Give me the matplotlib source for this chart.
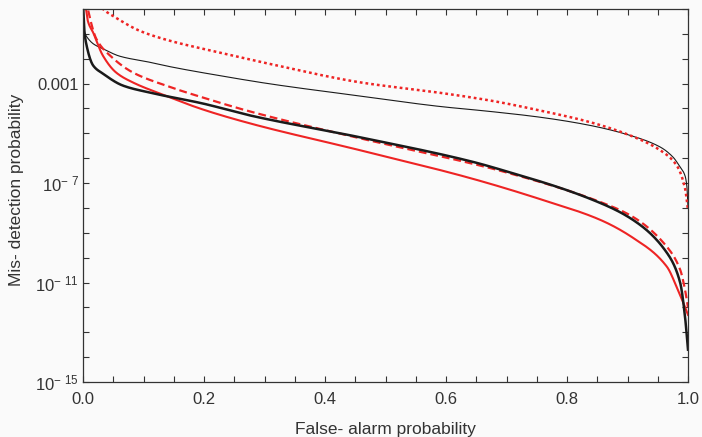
"""Mis-detection vs false-alarm probability curves (log scale)."""

import matplotlib

matplotlib.use("Agg")
import matplotlib.pyplot as plt
import numpy as np
from matplotlib.ticker import FixedLocator, FixedFormatter, NullFormatter

plt.rcParams["font.family"] = ["Liberation Sans", "DejaVu Sans"]
plt.rcParams["mathtext.fontset"] = "custom"
plt.rcParams["mathtext.rm"] = "Liberation Sans"

TEXT = "#333333"
RED = "#ee2424"
BLACK = "#1a1a1a"

# false-alarm probability and log10(mis-detection probability)
thin_black_x = [0.0, 0.003, 0.017, 0.033, 0.061, 0.11, 0.144, 0.226, 0.309, 0.458, 0.59,
                0.673, 0.755, 0.838, 0.904, 0.954, 0.975, 0.985, 0.995, 0.998, 1.0]
thin_black_log = [-0.85, -1.0, -1.4, -1.6, -1.9, -2.14, -2.32, -2.68, -3.01, -3.5, -3.92,
                  -4.12, -4.35, -4.68, -5.08, -5.55, -5.95, -6.28, -6.7, -7.1, -7.96]

dotted_x = [0.02, 0.033, 0.055, 0.094, 0.144, 0.226, 0.309, 0.458, 0.59, 0.673, 0.755,
            0.838, 0.904, 0.954, 0.981, 0.995, 1.0]
dotted_log = [0.4, 0.0, -0.36, -0.88, -1.28, -1.75, -2.21, -2.95, -3.37, -3.68, -4.08,
              -4.55, -5.08, -5.68, -6.28, -7.2, -8.08]

thick_black_x = [0.0, 0.002, 0.005, 0.017, 0.033, 0.066, 0.11, 0.198, 0.276, 0.458, 0.64,
                 0.689, 0.843, 0.909, 0.965, 0.987, 0.995, 1.0]
thick_black_log = [0.2, -0.8, -1.36, -2.28, -2.6, -3.08, -3.36, -3.8, -4.28, -5.16, -6.12,
                   -6.45, -7.68, -8.48, -9.8, -11.0, -12.36, -13.7]

red_solid_x = [0.002, 0.005, 0.008, 0.017, 0.033, 0.055, 0.083, 0.127, 0.198, 0.276, 0.458,
               0.64, 0.76, 0.855, 0.909, 0.965, 0.983, 0.992, 1.0]
red_solid_log = [0.5, 0.0, -0.48, -0.96, -1.88, -2.56, -2.96, -3.4, -4.04, -4.6, -5.68,
                 -6.8, -7.68, -8.48, -9.2, -10.36, -11.28, -11.8, -12.3]

dashed_x = [0.004, 0.008, 0.022, 0.045, 0.083, 0.137, 0.198, 0.276, 0.458, 0.64, 0.689,
            0.855, 0.909, 0.965, 0.987, 0.995, 1.0]
dashed_log = [0.5, 0.0, -1.2, -1.88, -2.56, -3.08, -3.56, -4.12, -5.2, -6.2, -6.5,
              -7.76, -8.36, -9.56, -10.48, -11.28, -12.0]

y_major = [1e-15, 1e-11, 1e-7, 1e-3]
y_major_labels = [r"$\mathrm{10^{-\ 15}}$", r"$\mathrm{10^{-\ 11}}$", r"$\mathrm{10^{-\ 7}}$", "0.001"]
x_ticks = [0.0, 0.2, 0.4, 0.6, 0.8, 1.0]
x_tick_labels = ["0.0", "0.2", "0.4", "0.6", "0.8", "1.0"]


def pchip(xs, ys, grid):
    """Monotone cubic (Fritsch-Carlson) through the read-off points."""
    xs = np.asarray(xs, dtype=float)
    ys = np.asarray(ys, dtype=float)
    h = np.diff(xs)
    delta = np.diff(ys) / h
    d = np.zeros_like(ys)
    for k in range(1, len(xs) - 1):
        if delta[k - 1] * delta[k] > 0:
            w1 = 2 * h[k] + h[k - 1]
            w2 = h[k] + 2 * h[k - 1]
            d[k] = (w1 + w2) / (w1 / delta[k - 1] + w2 / delta[k])
    d[0] = delta[0]
    d[-1] = delta[-1]
    idx = np.clip(np.searchsorted(xs, grid) - 1, 0, len(xs) - 2)
    t = (grid - xs[idx]) / h[idx]
    h00 = 2 * t**3 - 3 * t**2 + 1
    h10 = t**3 - 2 * t**2 + t
    h01 = -2 * t**3 + 3 * t**2
    h11 = t**3 - t**2
    return h00 * ys[idx] + h10 * h[idx] * d[idx] + h01 * ys[idx + 1] + h11 * h[idx] * d[idx + 1]


def smooth(xs, logs):
    # dense near both ends where the curves bend hard
    grid = np.unique(np.concatenate([
        np.linspace(xs[0], xs[-1], 800),
        xs[0] + (xs[-1] - xs[0]) * np.geomspace(1e-5, 0.05, 200),
        xs[-1] - (xs[-1] - xs[0]) * np.geomspace(1e-5, 0.05, 200),
    ]))
    return grid, 10 ** pchip(xs, logs, grid)


fig = plt.figure(figsize=(7.02, 4.37), dpi=100, facecolor="#fafafa")
ax = fig.add_axes([83 / 702, 1 - 382 / 437, 605 / 702, 373 / 437])
ax.set_facecolor("#fafafa")

ax.plot(*smooth(thin_black_x, thin_black_log), color=BLACK, lw=0.8)
ax.plot(*smooth(dotted_x, dotted_log), color=RED, lw=1.8, ls=(0, (1.1, 1.2)))
ax.plot(*smooth(red_solid_x, red_solid_log), color=RED, lw=1.5)
ax.plot(*smooth(dashed_x, dashed_log), color=RED, lw=1.6, ls=(0, (3.5, 1.8)))
ax.plot(*smooth(thick_black_x, thick_black_log), color=BLACK, lw=1.8)

ax.set_yscale("log")
ax.set_xlim(0, 1)
ax.set_ylim(1e-15, 1)

ax.yaxis.set_major_locator(FixedLocator(y_major))
ax.yaxis.set_major_formatter(FixedFormatter(y_major_labels))
ax.yaxis.set_minor_locator(FixedLocator([10.0 ** k for k in range(-15, 1)]))
ax.yaxis.set_minor_formatter(NullFormatter())
ax.xaxis.set_major_locator(FixedLocator(x_ticks))
ax.xaxis.set_major_formatter(FixedFormatter(x_tick_labels))
ax.xaxis.set_minor_locator(FixedLocator(np.arange(0, 1.001, 0.05)))

for which in ("major", "minor"):
    ax.tick_params(which=which, direction="in", length=4, width=0.8, color="#333333",
                   top=True, right=True, labelsize=12, labelcolor=TEXT)
ax.tick_params(axis="x", which="major", pad=7)
ax.tick_params(axis="y", which="major", pad=3)

for spine in ax.spines.values():
    spine.set_color("#333333")
    spine.set_linewidth(0.9)

ax.set_xlabel("False- alarm probability", fontsize=12.5, color=TEXT)
ax.set_ylabel("Mis- detection probability", fontsize=12.5, color=TEXT)
ax.xaxis.set_label_coords(0.5, -0.108)
ax.yaxis.set_label_coords(-0.097, 0.515)

fig.savefig("out.png", dpi=100, facecolor=fig.get_facecolor())
